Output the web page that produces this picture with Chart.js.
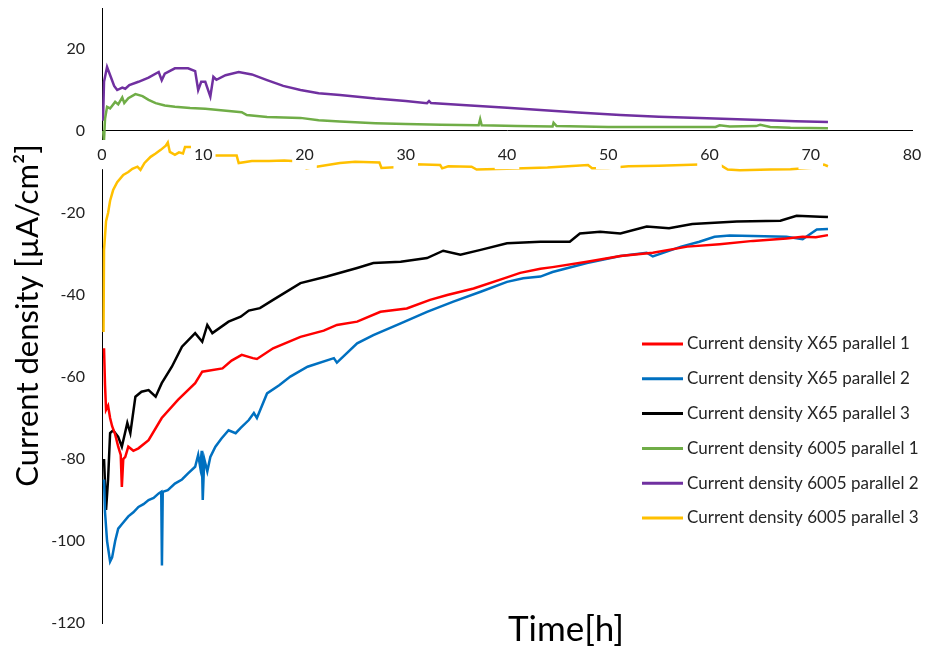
<!DOCTYPE html>
<html><head><meta charset="utf-8">
<script src="https://cdn.jsdelivr.net/npm/chart.js@4.4.1/dist/chart.umd.min.js"></script>
<style>html,body{margin:0;padding:0;background:#fff}#wrap{width:925px;height:651px;position:relative}</style>
</head><body><div id="wrap"><canvas id="c"></canvas></div>
<script>
// ---- data ----
const seriesNames = [
  'Current density X65 parallel 1',
  'Current density X65 parallel 2',
  'Current density X65 parallel 3',
  'Current density 6005 parallel 1',
  'Current density 6005 parallel 2',
  'Current density 6005 parallel 3'
];
const xTickValues = [0, 10, 20, 30, 40, 50, 60, 70, 80];
const yTickValues = [-120, -100, -80, -60, -40, -20, 0, 20];

const timeX65p1 = [0.2,0.3,0.4,0.6,0.8,1.0,1.3,1.6,1.85,1.96,2.1,2.3,2.6,3.1,3.6,4.6,5.9,7.5,9.2,9.9,11.9,12.8,13.8,14.9,15.3,16.9,19.6,21.9,23.2,25.2,27.5,30.1,32.4,34.1,36.7,40.0,41.3,43.3,44.5,47.9,51.2,54.4,57.8,61.0,64.3,67.6,69.2,70.5,71.7];
const currX65p1 = [-53,-62,-68,-67,-70,-72,-74,-77,-79,-86.8,-80,-79.5,-77,-78,-77.4,-75.4,-70,-65.6,-61.5,-58.7,-57.9,-56,-54.6,-55.4,-55.6,-53,-50.2,-48.7,-47.3,-46.5,-44.1,-43.3,-41.2,-40,-38.4,-35.7,-34.6,-33.6,-33.2,-31.9,-30.5,-29.7,-28.2,-27.6,-26.8,-26.2,-25.8,-25.9,-25.4];

const timeX65p2 = [0.2,0.3,0.5,0.8,1.0,1.3,1.6,2.1,2.6,3.1,3.6,4.1,4.6,5.1,5.6,5.85,5.92,6.0,6.5,7.2,7.9,8.5,9.2,9.5,9.7,9.85,9.95,10.1,10.4,10.7,11.2,11.8,12.5,13.2,13.7,14.5,15.0,15.3,16.3,17.5,18.6,20.3,22.9,23.2,25.2,26.8,29.5,32.1,34.7,37.4,40.0,41.6,43.3,44.5,47.9,51.2,53.8,54.4,57.2,59.0,60.5,62.0,64.3,67.6,69.2,70.6,71.7];
const currX65p2 = [-85,-93,-100,-105,-104,-100,-97,-95.5,-94,-93,-91.7,-91,-90,-89.5,-88.4,-88,-106,-88,-87.6,-86,-85,-83.5,-81.9,-79,-82,-78,-90,-80,-83,-79.5,-77,-75,-73,-73.7,-72.4,-70.5,-68.8,-70,-64,-62,-59.9,-57.5,-55.4,-56.5,-51.8,-49.8,-46.9,-44.1,-41.6,-39.2,-36.8,-35.9,-35.5,-34.4,-32.2,-30.5,-29.7,-30.6,-28.2,-27,-25.8,-25.5,-25.6,-25.8,-26.4,-24,-23.9];

const timeX65p3 = [0.2,0.4,0.6,0.8,1.1,1.6,1.96,2.5,2.8,3.3,3.9,4.6,5.3,5.9,6.9,7.9,9.2,9.9,10.4,10.9,12.5,13.7,14.5,15.6,16.9,19.6,22.2,25.2,26.8,29.5,32.1,33.7,35.4,37.4,40.0,43.3,46.2,47.2,49.2,51.2,53.8,56.0,58.3,62.7,67.0,68.6,70.9,71.7];
const currX65p3 = [-80,-92.4,-85,-73.7,-73,-74.6,-77,-71.2,-73.7,-64.8,-63.6,-63.2,-64.8,-61.5,-57.5,-52.6,-49.3,-51.4,-47.3,-49.3,-46.5,-45.3,-43.8,-43.2,-41.2,-37.1,-35.5,-33.4,-32.2,-31.9,-31,-29.2,-30.2,-29,-27.4,-27,-27,-25,-24.6,-25,-23.3,-23.7,-22.7,-22.1,-21.9,-20.7,-20.9,-21];

const time6005p1 = [0.1,0.2,0.3,0.5,0.8,1.3,1.6,2.0,2.2,2.6,3.3,4.0,4.6,5.3,6.2,7.2,8.7,10.2,12.0,13.8,14.3,16.3,19.6,21.4,23.5,27.0,30.0,33.5,37.2,37.35,37.5,41.0,44.5,44.6,44.9,50.0,55.0,60.6,61.0,62.0,64.6,65.0,66.0,68.0,71.7];
const curr6005p1 = [0,-2.2,3,5.9,5.5,7.1,6.5,8.2,6.8,8,9,8.5,7.6,6.8,6.2,5.9,5.6,5.4,5,4.6,3.9,3.4,3.2,2.6,2.3,1.9,1.7,1.5,1.4,2.9,1.4,1.2,1.1,2,1.2,1.0,1.0,1.0,1.4,1.1,1.2,1.5,1.0,0.8,0.7];

const time6005p2 = [0.1,0.2,0.5,0.9,1.2,1.5,2.0,2.3,2.7,3.6,4.6,5.6,5.9,6.2,7.2,8.5,9.2,9.5,9.8,10.2,10.7,11.0,11.3,12.2,13.5,14.8,16.3,17.9,19.6,21.4,23.5,27.0,30.0,32.1,32.3,32.5,36.0,40.0,43.3,47.0,51.2,55.0,59.0,62.0,65.0,68.5,71.7];
const curr6005p2 = [2.5,12,15.6,13,11,10,10.6,10.3,11.2,12,13,14.4,12.4,14,15.3,15.3,14.6,10,12,12,8.4,13.2,12.5,13.6,14.4,13.8,12.4,11,10,9.2,8.8,7.9,7.3,6.8,7.3,6.8,6.3,5.7,5.1,4.5,3.9,3.5,3.2,2.9,2.7,2.4,2.2];

const time6005p3 = [0.15,0.2,0.4,0.6,0.8,1.1,1.5,2.1,2.6,3.0,3.5,3.8,4.2,4.8,5.3,5.8,6.3,6.5,6.7,7.2,7.6,8.0,8.2,8.9,11.0,13.3,13.5,14.8,16.5,18.0,20.0,20.2,21.5,23.5,25.0,27.4,27.6,29.8,31.0,33.4,33.6,34.2,36.5,37.0,40.0,44.0,48.0,48.4,50.0,52.0,55.0,59.0,61.0,61.8,63.0,66.0,68.0,70.5,71.3,71.7];
const curr6005p3 = [-49,-29,-22,-20,-17,-14.4,-12.5,-10.7,-10,-9.2,-8.7,-9.5,-7.8,-6.3,-5.5,-4.6,-3.6,-2.8,-5.1,-5.8,-5.2,-5.5,-3.9,-3.9,-6,-6,-7.8,-7.3,-7.3,-7.2,-7.5,-9.1,-8.6,-7.8,-7.5,-7.7,-9,-8.7,-8.1,-8.3,-9.1,-8.6,-8.7,-9.4,-9.2,-8.9,-8.3,-9.1,-9,-8.6,-8.5,-8.2,-8.2,-9.4,-9.6,-9.4,-9.3,-8.9,-8.2,-8.6];

const seriesColors = ['#FF0000', '#0070C0', '#000000', '#70AD47', '#7030A0', '#FFC000'];
const seriesTimes = [timeX65p1, timeX65p2, timeX65p3, time6005p1, time6005p2, time6005p3];
const seriesValues = [currX65p1, currX65p2, currX65p3, curr6005p1, curr6005p2, curr6005p3];

const datasets = seriesNames.map((name, i) => ({
  label: name,
  data: seriesTimes[i].map((t, k) => ({x: t, y: seriesValues[i][k]})),
  borderColor: seriesColors[i],
  backgroundColor: seriesColors[i],
  borderWidth: 2.5,
  pointRadius: 0,
  tension: 0,
  fill: false
}));

const FONT = 'Lato';

const overlayPlugin = {
  id: 'overlay',
  afterDraw(chart) {
    const ctx = chart.ctx;
    const area = chart.chartArea;
    ctx.save();
    // legend
    const lx = area.right - 270, ly = area.top + 336, gap = 34.8;
    chart.data.datasets.forEach((ds, i) => {
      const y = ly + i * gap;
      ctx.strokeStyle = ds.borderColor;
      ctx.lineWidth = 3;
      ctx.beginPath(); ctx.moveTo(lx, y); ctx.lineTo(lx + 41, y); ctx.stroke();
      ctx.fillStyle = '#262626';
      ctx.font = '17px ' + FONT;
      ctx.textBaseline = 'middle';
      ctx.textAlign = 'left';
      ctx.fillText(ds.label, lx + 45, y);
    });
    // x axis title
    ctx.fillStyle = '#000';
    ctx.font = '35px ' + FONT;
    ctx.textAlign = 'center';
    ctx.textBaseline = 'middle';
    ctx.fillText('Time[h]', area.left + 464, area.bottom + 7);
    ctx.restore();
  }
};

new Chart(document.getElementById('c'), {
  type: 'line',
  data: { datasets },
  options: {
    responsive: true,
    maintainAspectRatio: false,
    animation: false,
    devicePixelRatio: 1,
    layout: { padding: { left: 0, right: 13, top: 8, bottom: 28 } },
    plugins: { legend: { display: false }, tooltip: { enabled: false } },
    scales: {
      x: {
        type: 'linear', min: 0, max: 80,
        position: { y: 0 },
        grid: { display: false, drawTicks: false },
        border: { display: true, color: '#000', width: 1 },
        afterBuildTicks: s => { s.ticks = xTickValues.map(v => ({ value: v })); },
        afterFit: s => { s.paddingLeft = 0; s.paddingRight = 0; s.paddingTop = 0; s.paddingBottom = 0; },
        ticks: {
          font: { family: FONT, size: 16 }, color: '#222', padding: 14,
          maxRotation: 0, autoSkip: false,
          showLabelBackdrop: true, backdropColor: '#ffffff', backdropPadding: { x: 3, y: 5 },
          z: 1
        }
      },
      y: {
        type: 'linear', min: -120, max: 30, position: 'left',
        grid: { display: false, drawTicks: false },
        border: { display: true, color: '#000', width: 1 },
        afterBuildTicks: s => { s.ticks = yTickValues.map(v => ({ value: v })); },
        afterFit: s => { s.width = 102; s.paddingTop = 0; s.paddingBottom = 0; },
        ticks: { font: { family: FONT, size: 16 }, color: '#222', padding: 17 },
        title: {
          display: true, text: 'Current density [µA/cm²]', color: '#000',
          font: { family: FONT, size: 31 }, padding: { top: 9, bottom: 0 }
        }
      }
    }
  },
  plugins: [overlayPlugin]
});
</script>
</body></html>
